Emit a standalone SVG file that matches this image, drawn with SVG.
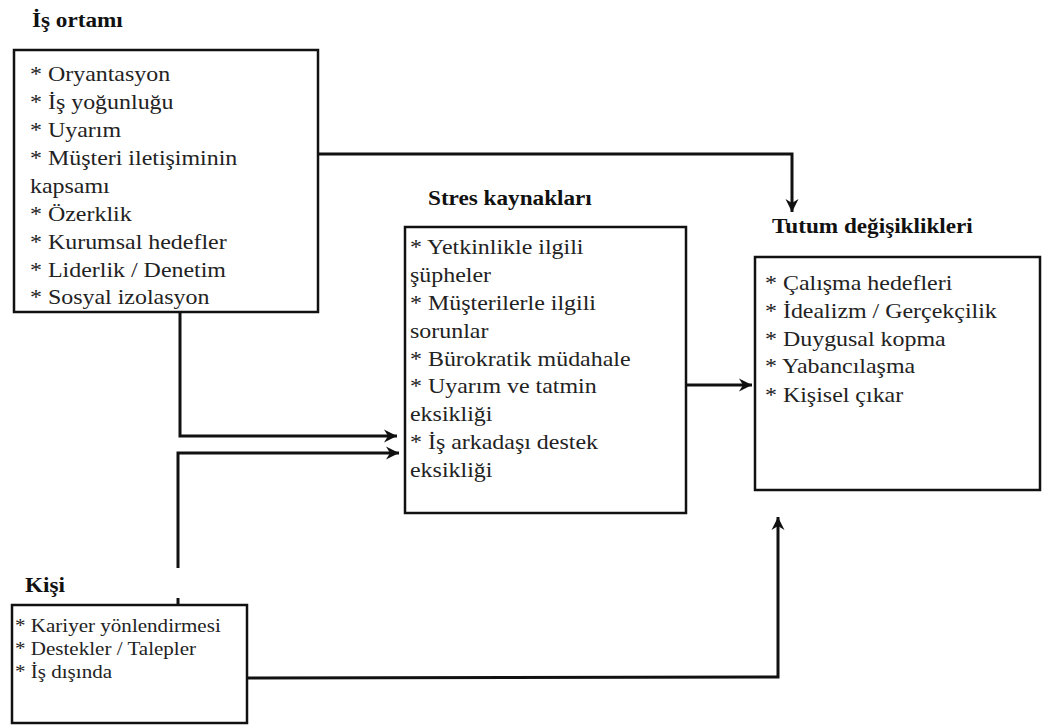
<svg xmlns="http://www.w3.org/2000/svg" width="1043" height="727" viewBox="0 0 1043 727">
<defs>
<style>
.box{fill:#fff;stroke:#111;stroke-width:2.5}
.t{font-family:"Liberation Serif","Times New Roman",serif;font-size:21px;fill:#222}
.s{font-family:"Liberation Serif","Times New Roman",serif;font-size:18px;fill:#222}
.h{font-family:"Liberation Serif","Times New Roman",serif;font-size:20px;font-weight:bold;fill:#111}
.c{fill:none;stroke:#111;stroke-width:3}
</style>
<marker id="ah" markerWidth="14" markerHeight="14" refX="13" refY="7" orient="auto" markerUnits="userSpaceOnUse">
<path d="M0,0.5 L13,7 L0,13.5 L4,7 z" fill="#111"/>
</marker>
</defs>
<rect width="1043" height="727" fill="#fff"/>

<g id="connectors">
<path class="c" d="M318,154 L792,154 L792,212" marker-end="url(#ah)"/>
<path class="c" d="M180,312 L180,436 L397,436" marker-end="url(#ah)"/>
<path class="c" d="M178,568 L178,453 L399,453" marker-end="url(#ah)"/>
<path class="c" d="M178,605 L178,598"/>
<path class="c" d="M686,385 L752,385" marker-end="url(#ah)"/>
<path class="c" d="M247,678 L778,677 L778,517" marker-end="url(#ah)"/>
</g>

<g id="is-ortami">
<g transform="translate(32,0) scale(1.16,1)"><text class="h" x="0" y="27">İş ortamı</text></g>
<rect class="box" x="14" y="50" width="304" height="262"/>
<g transform="translate(30,0) scale(1.14,1)">
<text class="t" x="0" y="81">* Oryantasyon</text>
<text class="t" x="0" y="109">* İş yoğunluğu</text>
<text class="t" x="0" y="137">* Uyarım</text>
<text class="t" x="0" y="165">* Müşteri iletişiminin</text>
<text class="t" x="0" y="193">kapsamı</text>
<text class="t" x="0" y="221">* Özerklik</text>
<text class="t" x="0" y="249">* Kurumsal hedefler</text>
<text class="t" x="0" y="277">* Liderlik / Denetim</text>
<text class="t" x="0" y="304">* Sosyal izolasyon</text>
</g>
</g>

<g id="stres-kaynaklari">
<g transform="translate(428,0) scale(1.16,1)"><text class="h" x="0" y="205">Stres kaynakları</text></g>
<rect class="box" x="405" y="227" width="281" height="286"/>
<g transform="translate(410,0) scale(1.14,1)">
<text class="t" x="0" y="254">* Yetkinlikle ilgili</text>
<text class="t" x="0" y="282">şüpheler</text>
<text class="t" x="0" y="310">* Müşterilerle ilgili</text>
<text class="t" x="0" y="338">sorunlar</text>
<text class="t" x="0" y="366">* Bürokratik müdahale</text>
<text class="t" x="0" y="393">* Uyarım ve tatmin</text>
<text class="t" x="0" y="421">eksikliği</text>
<text class="t" x="0" y="449">* İş arkadaşı destek</text>
<text class="t" x="0" y="477">eksikliği</text>
</g>
</g>

<g id="tutum-degisiklikleri">
<g transform="translate(772,0) scale(1.16,1)"><text class="h" x="0" y="233">Tutum değişiklikleri</text></g>
<rect class="box" x="755" y="257" width="285" height="233"/>
<g transform="translate(765,0) scale(1.14,1)">
<text class="t" x="0" y="290">* Çalışma hedefleri</text>
<text class="t" x="0" y="318">* İdealizm / Gerçekçilik</text>
<text class="t" x="0" y="346">* Duygusal kopma</text>
<text class="t" x="0" y="373">* Yabancılaşma</text>
<text class="t" x="0" y="402">* Kişisel çıkar</text>
</g>
</g>

<g id="kisi">
<g transform="translate(25,0) scale(1.16,1)"><text class="h" x="0" y="592">Kişi</text></g>
<rect class="box" x="12" y="605" width="235" height="118"/>
<g transform="translate(15,0) scale(1.17,1)">
<text class="s" x="0" y="632">* Kariyer yönlendirmesi</text>
<text class="s" x="0" y="655">* Destekler / Talepler</text>
<text class="s" x="0" y="678">* İş dışında</text>
</g>
</g>
</svg>
